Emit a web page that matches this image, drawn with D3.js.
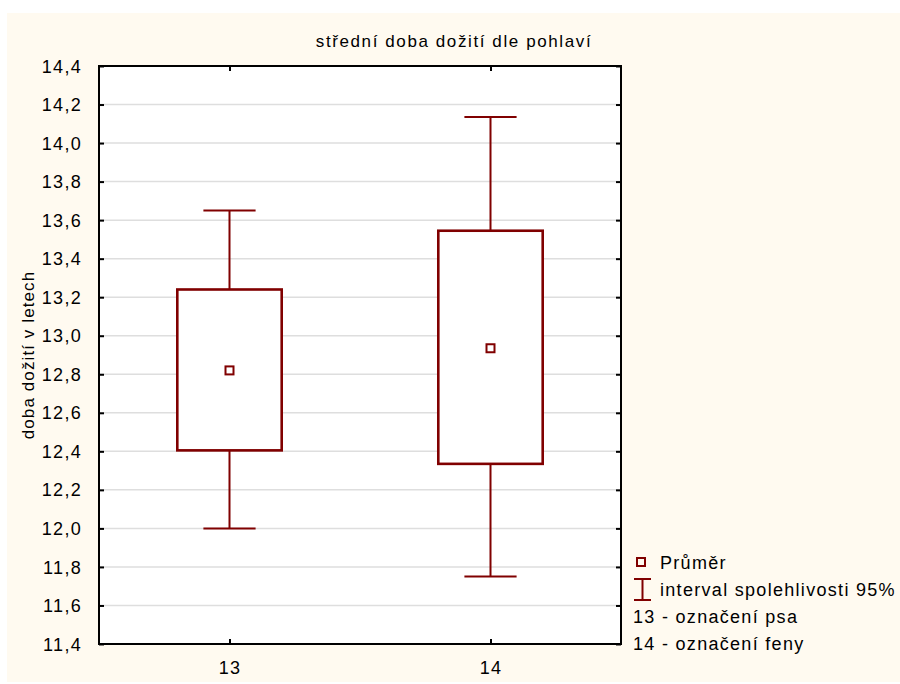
<!DOCTYPE html>
<html>
<head>
<meta charset="utf-8">
<script src="https://cdn.jsdelivr.net/npm/d3@7"></script>
<style>
	body { margin: 0; background: #fff; }
	text { font-family: "Liberation Sans", Arial, sans-serif; fill: #000; }
</style>
</head>
<body>
<svg id="chart" width="900" height="684"></svg>
<script>
// data
var groups = ["13", "14"];
var means = [12.82, 12.935];
var boxLow = [12.405, 12.335];
var boxHigh = [13.24, 13.545];
var whiskLow = [12.0, 11.75];
var whiskHigh = [13.65, 14.135];
var yTicks = [11.4, 11.6, 11.8, 12.0, 12.2, 12.4, 12.6, 12.8, 13.0, 13.2, 13.4, 13.6, 13.8, 14.0, 14.2, 14.4];
var legendLines = ["Průměr", "interval spolehlivosti 95%", "13 - označení psa", "14 - označení feny"];

var dark = "#800000";
var svg = d3.select("#chart");

// cream panel
svg.append("rect").attr("x", 7).attr("y", 13).attr("width", 893).attr("height", 669).attr("fill", "#fffaf0");

var pLeft = 99, pRight = 621, pTop = 66, pBottom = 644;

var x = d3.scalePoint().domain(groups).range([pLeft, pRight]).padding(0.5);
var y = d3.scaleLinear().domain([11.4, 14.4]).range([pBottom, pTop]);
var step = x.step();

svg.append("rect").attr("x", pLeft).attr("y", pTop).attr("width", pRight - pLeft).attr("height", pBottom - pTop).attr("fill", "#fff");

// grid
svg.append("g").selectAll("line").data(yTicks.slice(1, -1)).enter().append("line")
	.attr("x1", pLeft).attr("x2", pRight)
	.attr("y1", function(d) { return y(d); }).attr("y2", function(d) { return y(d); })
	.attr("stroke", "#dedede").attr("stroke-width", 1.5);

// axes (ticks inward)
var yAxisL = d3.axisLeft(y).tickValues(yTicks).tickSize(-5).tickPadding(17)
	.tickFormat(function(d) { return d3.format(".1f")(d).replace(".", ","); });
var gl = svg.append("g").attr("transform", "translate(" + pLeft + ",0)").call(yAxisL);
var gr = svg.append("g").attr("transform", "translate(" + pRight + ",0)").call(d3.axisRight(y).tickValues(yTicks).tickSize(-5).tickFormat(""));
var gb = svg.append("g").attr("transform", "translate(0," + pBottom + ")").call(d3.axisBottom(x).tickSize(-5).tickPadding(19));
var gt = svg.append("g").attr("transform", "translate(0," + pTop + ")").call(d3.axisTop(x).tickSize(-5).tickFormat(""));
[gl, gr, gb, gt].forEach(function(g) {
	g.select(".domain").remove();
	g.selectAll(".tick line").attr("stroke", "#000").attr("stroke-width", 2);
	g.selectAll(".tick text").attr("font-size", 18).attr("letter-spacing", 1.3).attr("fill", "#000")
		.style("font-family", "'Liberation Sans', Arial, sans-serif");
});
gl.selectAll(".tick text").attr("dy", "0.34em");
gb.selectAll(".tick text").attr("dy", "0.62em");

// frame
svg.append("rect").attr("x", pLeft).attr("y", pTop).attr("width", pRight - pLeft).attr("height", pBottom - pTop)
	.attr("fill", "none").attr("stroke", "#000").attr("stroke-width", 2);

// boxes
var g = svg.append("g").selectAll("g").data(groups).enter().append("g");
g.append("line")
	.attr("x1", function(d) { return x(d); }).attr("x2", function(d) { return x(d); })
	.attr("y1", function(d, i) { return y(whiskHigh[i]); }).attr("y2", function(d, i) { return y(whiskLow[i]); })
	.attr("stroke", dark).attr("stroke-width", 2);
[whiskHigh, whiskLow].forEach(function(arr) {
	g.append("line")
		.attr("x1", function(d) { return x(d) - step * 0.1; }).attr("x2", function(d) { return x(d) + step * 0.1; })
		.attr("y1", function(d, i) { return y(arr[i]); }).attr("y2", function(d, i) { return y(arr[i]); })
		.attr("stroke", dark).attr("stroke-width", 2);
});
g.append("rect")
	.attr("x", function(d) { return x(d) - step * 0.2; })
	.attr("width", step * 0.4)
	.attr("y", function(d, i) { return y(boxHigh[i]); })
	.attr("height", function(d, i) { return y(boxLow[i]) - y(boxHigh[i]); })
	.attr("fill", "#fff").attr("stroke", dark).attr("stroke-width", 2.6);
g.append("rect")
	.attr("x", function(d) { return x(d) - 4; }).attr("width", 8)
	.attr("y", function(d, i) { return y(means[i]) - 4; }).attr("height", 8)
	.attr("fill", "#fff").attr("stroke", dark).attr("stroke-width", 2);

// title and axis label
svg.append("text").attr("x", 454).attr("y", 47).attr("text-anchor", "middle")
	.attr("font-size", 17).attr("letter-spacing", 1.6).text("střední doba dožití dle pohlaví");
svg.append("text").attr("transform", "translate(34," + ((pTop + pBottom) / 2) + ") rotate(-90)")
	.attr("text-anchor", "middle").attr("font-size", 17).attr("letter-spacing", 1.1).text("doba dožití v letech");

// legend
var lg = svg.append("g");
lg.append("rect").attr("x", 637).attr("y", 558).attr("width", 8).attr("height", 8)
	.attr("fill", "none").attr("stroke", dark).attr("stroke-width", 2);
lg.append("line").attr("x1", 642.5).attr("x2", 642.5).attr("y1", 579).attr("y2", 600).attr("stroke", dark).attr("stroke-width", 2);
lg.append("line").attr("x1", 634).attr("x2", 651).attr("y1", 579).attr("y2", 579).attr("stroke", dark).attr("stroke-width", 2);
lg.append("line").attr("x1", 634).attr("x2", 651).attr("y1", 600).attr("y2", 600).attr("stroke", dark).attr("stroke-width", 2);
lg.selectAll("text.leg").data(legendLines).enter().append("text")
	.attr("class", "leg")
	.attr("x", function(d, i) { return i < 2 ? 660 : 633; })
	.attr("y", function(d, i) { return 569 + i * 27; })
	.attr("font-size", 18).attr("letter-spacing", 1.3)
	.text(function(d) { return d; });
</script>
</body>
</html>
